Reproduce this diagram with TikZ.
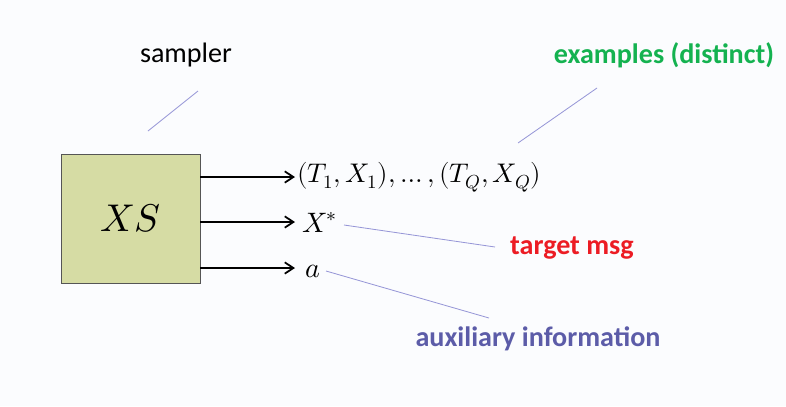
\documentclass[tikz,border=0pt]{standalone}
\usepackage{fontspec}
\usepackage{unicode-math}
\setmainfont{Carlito}
\setmathfont{Latin Modern Math}
\usetikzlibrary{arrows.meta}
\definecolor{xsfill}{RGB}{214,220,164}
\definecolor{xsline}{RGB}{85,85,85}
\definecolor{exgreen}{RGB}{20,178,80}
\definecolor{tgred}{RGB}{236,28,36}
\definecolor{auxblue}{RGB}{92,92,168}
\definecolor{leadcol}{RGB}{150,150,215}
\definecolor{slidebg}{RGB}{251,252,254}
\tikzset{
  box/.style={draw=xsline, fill=xsfill, line width=0.8pt,
              minimum width=4.17cm, minimum height=3.87cm,
              font=\fontsize{33}{38}\selectfont},
  outtxt/.style={anchor=base west, inner sep=0pt, font=\fontsize{24}{28}\selectfont},
  arr/.style={-{Straight Barb[length=2.6mm, width=3.4mm]}, line width=1.5pt},
  lead/.style={draw=leadcol, line width=0.7pt},
  note/.style={anchor=base, inner sep=0pt, font=\fontsize{24}{28}\selectfont},
  hint/.style={note, font=\fontsize{24}{28}\selectfont\bfseries}
}
\begin{document}
\begin{tikzpicture}[x=0.03cm, y=-0.03cm]
  \fill[slidebg] (0,0) rectangle (786,406);
  \useasboundingbox (0,0) rectangle (786,406);

  \node[box] (xs) at (130.5,218.5) {$XS$};

  \node[outtxt, font=\fontsize{23}{27}\selectfont] (ex) at (297,182)
    {$(T_1,X_1),\ldots,(T_Q,X_Q)$};
  \node[outtxt] (tgt) at (302,232) {$X^{*}$};
  \node[outtxt] (aux) at (305,277) {$a$};

  \coordinate (ex-in)  at (295,177);
  \coordinate (tgt-in) at (295,222);
  \coordinate (aux-in) at (295,268);
  \draw[arr] (xs.east |- ex-in)  -- (ex-in);
  \draw[arr] (xs.east |- tgt-in) -- (tgt-in);
  \draw[arr] (xs.east |- aux-in) -- (aux-in);

  % labels and their leader lines
  \node[note] (smp) at (186,62) {sampler};
  \node[hint, text=exgreen] (exl)  at (664,63)  {examples (distinct)};
  \node[hint, text=tgred]   (tgl)  at (572,254) {target msg};
  \node[hint, text=auxblue] (auxl) at (538,346) {auxiliary information};

  \coordinate (smp-a) at (198,91);  \coordinate (smp-b) at (148,131);
  \coordinate (exl-a) at (597,88);  \coordinate (exl-b) at (518,143);
  \coordinate (tgl-a) at (344,225); \coordinate (tgl-b) at (495,247);
  \coordinate (aux-a) at (326,271); \coordinate (aux-b) at (489,318);
  \draw[lead] (smp-a) -- (smp-b);
  \draw[lead] (exl-a) -- (exl-b);
  \draw[lead] (tgl-a) -- (tgl-b);
  \draw[lead] (aux-a) -- (aux-b);
\end{tikzpicture}
\end{document}
